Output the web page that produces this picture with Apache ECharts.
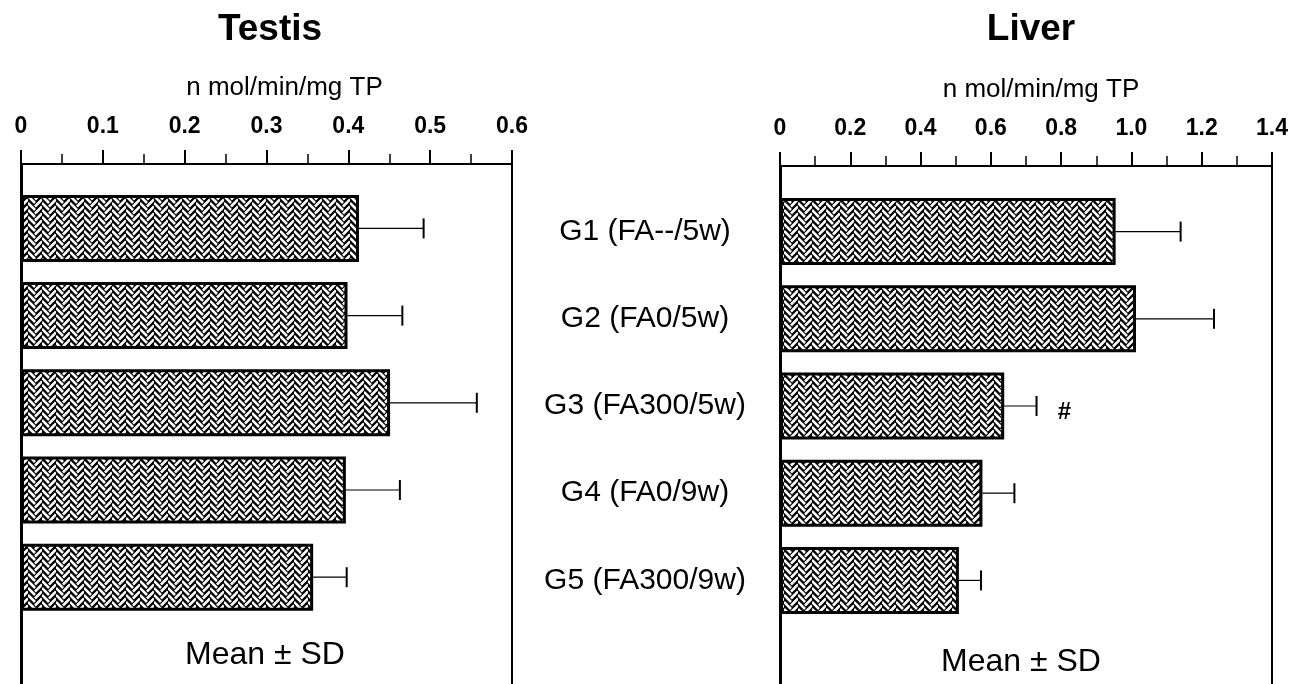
<!DOCTYPE html>
<html><head><meta charset="utf-8">
<script src="https://cdn.jsdelivr.net/npm/echarts@6/dist/echarts.min.js"></script>
<style>html,body{margin:0;padding:0;background:#fff}#c{width:1311px;height:684px}</style>
</head><body><div id="c"></div>
<script>
const categories = ['G1 (FA--/5w)', 'G2 (FA0/5w)', 'G3 (FA300/5w)', 'G4 (FA0/9w)', 'G5 (FA300/9w)'];
const testisMean = [0.413, 0.399, 0.451, 0.397, 0.357];
const testisSD   = [0.079, 0.067, 0.106, 0.066, 0.041];
const liverMean  = [0.955, 1.013, 0.638, 0.576, 0.509];
const liverSD    = [0.185, 0.222, 0.092, 0.091, 0.063];
const liverMarks = ['', '', '#', '', ''];
const testisTickLabels = ['0', '0.1', '0.2', '0.3', '0.4', '0.5', '0.6'];
const liverTickLabels  = ['0', '0.2', '0.4', '0.6', '0.8', '1.0', '1.2', '1.4'];
const axisUnit = 'n mol/min/mg TP';
const footnote = 'Mean ± SD';

const FONT = '"Liberation Sans", Arial, Helvetica, sans-serif';

function makePattern() {
  const c = document.createElement('canvas');
  c.width = 14; c.height = 14;
  const g = c.getContext('2d');
  g.fillStyle = '#000'; g.fillRect(0, 0, 14, 14);
  g.strokeStyle = '#fff'; g.lineWidth = 2.6; g.lineCap = 'butt';
  g.beginPath();
  for (let k = -14; k <= 14; k += 7) {
    g.moveTo(0, k); g.lineTo(7, k + 7);
    g.moveTo(7, k + 10.5); g.lineTo(14, k + 3.5);
  }
  g.stroke();
  return c;
}
const pattern = { image: makePattern(), repeat: 'repeat' };

function errRender(marks) {
  return function (params, api) {
    const m = api.value(0), idx = api.value(1), sd = api.value(2);
    const p0 = api.coord([m, idx]);
    const p1 = api.coord([m + sd, idx]);
    const cap = 10;
    const children = [
      { type: 'line', shape: { x1: p0[0], y1: p0[1], x2: p1[0], y2: p1[1] }, style: { stroke: '#000', lineWidth: 1.2 } },
      { type: 'line', shape: { x1: p1[0], y1: p1[1] - cap, x2: p1[0], y2: p1[1] + cap }, style: { stroke: '#000', lineWidth: 2 } }
    ];
    const mk = marks ? marks[params.dataIndex] : '';
    if (mk) {
      children.push({ type: 'text', x: p1[0] + 28, y: p1[1] + 6,
        style: { text: mk, font: 'bold 24px ' + FONT, fill: '#000', align: 'center', verticalAlign: 'middle' } });
    }
    return { type: 'group', children };
  };
}

function boxXAxis(grid, max, interval, labels, namePad) {
  return {
    gridIndex: grid, type: 'value', position: 'top', min: 0, max: max, interval: interval,
    axisLine: { show: true, onZero: false, lineStyle: { color: '#000', width: 2 } },
    axisTick: { show: true, inside: false, length: 14, lineStyle: { color: '#000', width: 2 } },
    minorTick: { show: true, splitNumber: 2, length: 10, lineStyle: { color: '#000', width: 1.5 } },
    splitLine: { show: false }, minorSplitLine: { show: false },
    axisLabel: { show: true, margin: 26, color: '#000', fontSize: 23, fontWeight: 'bold', fontFamily: FONT,
      formatter: function (v) { return labels[Math.round(v / interval)]; } },
    name: axisUnit, nameLocation: 'middle', nameGap: 63,
    nameTextStyle: { color: '#000', fontSize: 26, fontFamily: FONT, padding: namePad }
  };
}
function hiddenX(grid, max) {
  return { gridIndex: grid, type: 'value', min: 0, max: max, show: false, splitLine: { show: false } };
}
function sideY(grid, pos, w) {
  return { gridIndex: grid, type: 'value', position: pos, min: 0, max: 1,
    axisLine: { show: true, onZero: false, lineStyle: { color: '#000', width: w } },
    axisTick: { show: false }, axisLabel: { show: false }, splitLine: { show: false } };
}

const option = {
  animation: false,
  backgroundColor: '#fff',
  title: [
    { text: 'Testis', left: 270, top: 11, textAlign: 'center', padding: 0,
      textStyle: { fontSize: 37, fontWeight: 'bold', color: '#000', fontFamily: FONT } },
    { text: 'Liver', left: 1031, top: 11, textAlign: 'center', padding: 0,
      textStyle: { fontSize: 37, fontWeight: 'bold', color: '#000', fontFamily: FONT } },
    { text: footnote, left: 265, top: 639, textAlign: 'center', padding: 0,
      textStyle: { fontSize: 32, fontWeight: 'normal', color: '#000', fontFamily: FONT } },
    { text: footnote, left: 1021, top: 646, textAlign: 'center', padding: 0,
      textStyle: { fontSize: 32, fontWeight: 'normal', color: '#000', fontFamily: FONT } }
  ],
  grid: [
    { left: 21, right: 799, top: 164, bottom: -30 },
    { left: 21, right: 799, top: 184.8, height: 436 },
    { left: 780, right: 39, top: 166, bottom: -30 },
    { left: 780, right: 39, top: 188, height: 436 }
  ],
  xAxis: [
    boxXAxis(0, 0.6, 0.1, testisTickLabels, [0, 0, 0, 36]),
    hiddenX(1, 0.6),
    boxXAxis(2, 1.4, 0.2, liverTickLabels, [0, 0, 0, 30]),
    hiddenX(3, 1.4)
  ],
  yAxis: [
    sideY(0, 'left', 3),
    sideY(0, 'right', 2),
    { gridIndex: 1, type: 'category', inverse: true, data: categories, show: false },
    sideY(2, 'left', 3),
    sideY(2, 'right', 2),
    { gridIndex: 3, type: 'category', inverse: true, data: categories,
      axisLine: { show: false }, axisTick: { show: false }, splitLine: { show: false },
      axisLabel: { show: true, align: 'center', margin: 135, color: '#000', fontSize: 30, fontFamily: FONT,
        padding: [0, 0, 14, 0] } }
  ],
  series: [
    { type: 'bar', xAxisIndex: 1, yAxisIndex: 2, data: testisMean, barWidth: 67,
      itemStyle: { color: pattern, borderColor: '#000', borderWidth: 3 } },
    { type: 'custom', xAxisIndex: 1, yAxisIndex: 2, encode: { x: 0, y: 1 },
      data: testisMean.map((m, i) => [m, i, testisSD[i]]), renderItem: errRender(null) },
    { type: 'bar', xAxisIndex: 3, yAxisIndex: 5, data: liverMean, barWidth: 67,
      itemStyle: { color: pattern, borderColor: '#000', borderWidth: 3 } },
    { type: 'custom', xAxisIndex: 3, yAxisIndex: 5, encode: { x: 0, y: 1 },
      data: liverMean.map((m, i) => [m, i, liverSD[i]]), renderItem: errRender(liverMarks) }
  ]
};
const chart = echarts.init(document.getElementById('c'), null, { renderer: 'canvas' });
chart.setOption(option);
</script>
</body></html>
